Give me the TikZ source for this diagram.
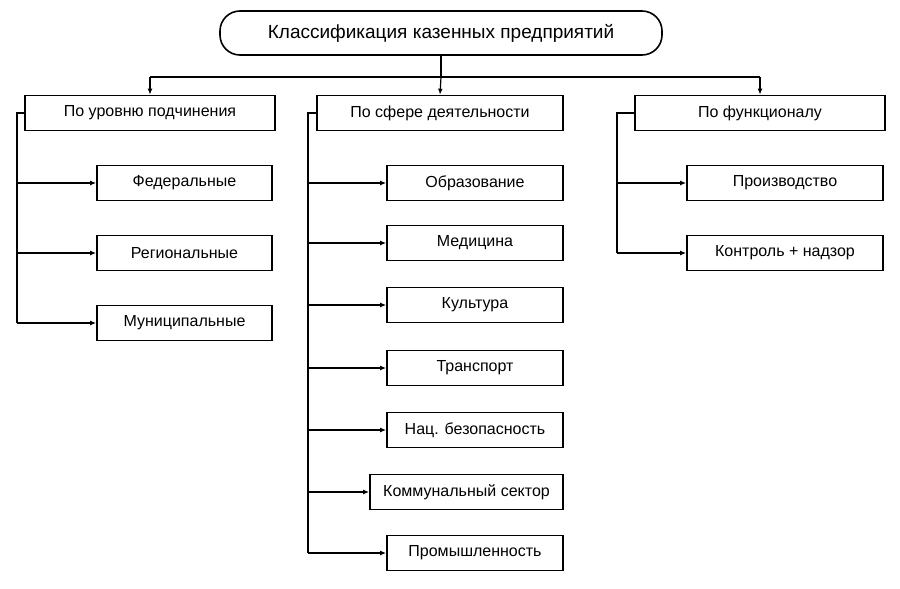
\documentclass[tikz,border=0pt]{standalone}
\usepackage{fontspec}
\setmainfont{Liberation Sans}
\usetikzlibrary{arrows.meta}
\tikzset{
  box/.style={draw, thick, minimum height=17.5pt, inner sep=1pt, font=\fontsize{8}{9}\selectfont},
  link/.style={-{Latex[length=3pt,width=2.4pt]}, semithick},
}
\begin{document}
\begin{tikzpicture}[x=0.5pt,y=-0.5pt]
                \useasboundingbox (0,0) rectangle (900,589);
                \node[box, rounded corners=10pt, minimum width=221pt, minimum height=22pt, font=\fontsize{9.5}{11}\selectfont] (top) at (441,33) {Классификация казенных предприятий};

                \node[box, minimum width=125pt] (level) at (150,113) {По уровню подчинения};
                \node[box, minimum width=123pt] (sphere) at (440,113) {По сфере деятельности};
                \node[box, minimum width=125pt] (func) at (760,113) {По функционалу};

                \draw[semithick] (top.south) -- (441,77);
                \draw[semithick] (150,77) -- (760,77);
                \draw[link] (150,77) -- (level.north);
                \draw[link] (441,77) -- (sphere.north);
                \draw[link] (760,77) -- (func.north);

                % по уровню
                \node[box, minimum width=87.5pt] (fed) at (184.5,183) {Федеральные};
                \node[box, minimum width=87.5pt] (reg) at (184.5,253) {Региональные};
                \node[box, minimum width=87.5pt] (mun) at (184.5,323) {Муниципальные};
                \draw[semithick] (level.west) -- (17,113) -- (17,323);
                \foreach \n in {fed,reg,mun}
                    \draw[link] (17,0 |- \n.west) -- (\n.west);

                % по сфере
                \node[box, minimum width=88pt] (edu) at (475,183) {Образование};
                \node[box, minimum width=88pt] (med) at (475,243) {Медицина};
                \node[box, minimum width=88pt] (cul) at (475,305) {Культура};
                \node[box, minimum width=88pt] (tra) at (475,368) {Транспорт};
                \node[box, minimum width=88pt] (sec) at (475,430) {Нац. безопасность};
                \node[box, minimum width=96.5pt] (com) at (466.5,492) {Коммунальный сектор};
                \node[box, minimum width=88pt] (ind) at (475,553) {Промышленность};
                \draw[semithick] (sphere.west) -- (308,113) -- (308,553);
                \foreach \n in {edu,med,cul,tra,sec,com,ind}
                    \draw[link] (308,0 |- \n.west) -- (\n.west);

                % по функционалу
                \node[box, minimum width=98pt] (prod) at (785,183) {Производство};
                \node[box, minimum width=98pt] (ctrl) at (785,253) {Контроль + надзор};
                \draw[semithick] (func.west) -- (617,113) -- (617,253);
                \foreach \n in {prod,ctrl}
                    \draw[link] (617,0 |- \n.west) -- (\n.west);
\end{tikzpicture}
\end{document}
